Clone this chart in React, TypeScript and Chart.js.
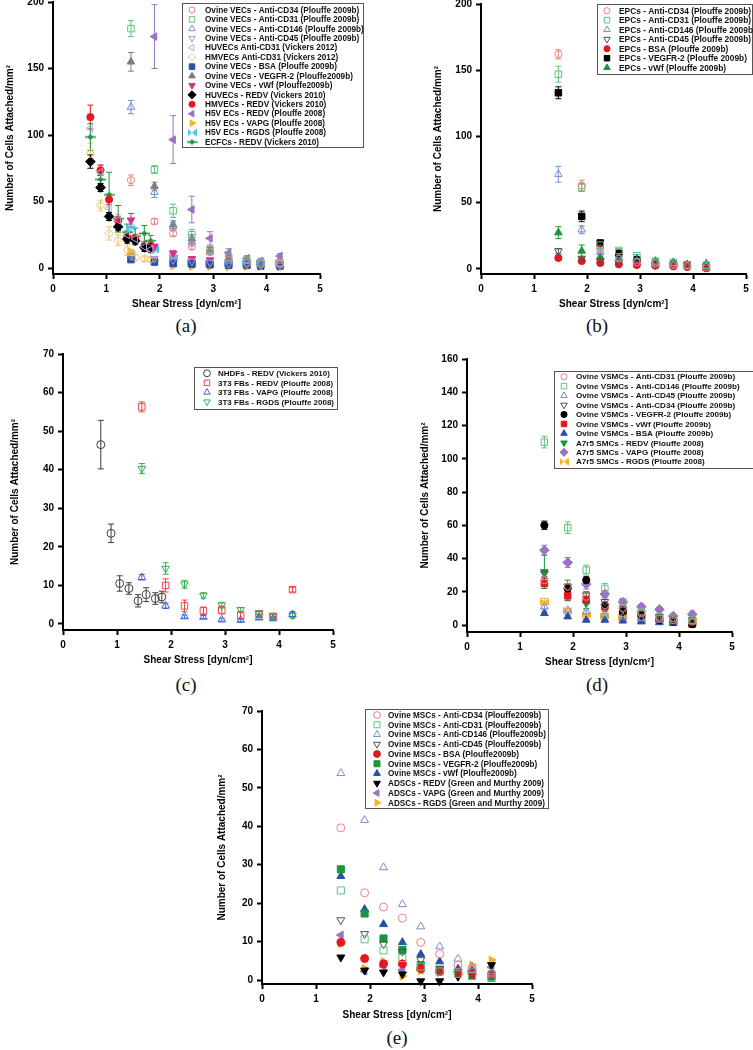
import React, { useEffect, useRef } from 'react';
import { Chart, registerables, PointElement } from 'chart.js';

Chart.register(...registerables);

const FONT = "'Liberation Sans', Arial, Helvetica, sans-serif";

// ---------- shared axes ----------
const SHEAR_PLOUFFE = [1.46, 1.9, 2.25, 2.6, 2.94, 3.29, 3.63, 3.89, 4.25];
const SHEAR_VICKERS = [0.7, 0.89, 1.05, 1.22, 1.39, 1.54, 1.71, 1.83];
const X_TICKS = [0, 1, 2, 3, 4, 5];
const Y_TICKS_AB = [0, 50, 100, 150, 200];
const Y_TICKS_C = [0, 10, 20, 30, 40, 50, 60, 70];
const Y_TICKS_D = [0, 20, 40, 60, 80, 100, 120, 140, 160];
const Y_TICKS_E = [0, 10, 20, 30, 40, 50, 60, 70];
const X_TITLE = 'Shear Stress [dyn/cm²]';
const Y_TITLE = 'Number of Cells Attached/mm²';

// ---------- panel (a) ----------
const A_CD34 = [66, 35, 26, 16, 12, 6, 4, 3, 3];
const A_CD34_E = [4, 2, 2, 2, 1.5, 1, 1, 1, 1];
const A_CD31 = [180, 74, 43, 25, 14, 8, 6, 4, 4];
const A_CD31_E = [6, 3, 5, 4, 2, 1.5, 1, 1, 1];
const A_CD146 = [121, 57, 31, 19.5, 12, 7, 5, 4, 3];
const A_CD146_E = [5, 4, 3, 3, 2, 1, 1, 1, 1];
const A_CD45 = [9, 7, 6, 5, 4, 3, 2.5, 2, 2];
const A_CD45_E = [1.5, 1, 1, 1, 1, 0.5, 0.5, 0.5, 0.5];
const A_HUV_CD31 = [105, 72, 45, 36, 25, 22, 16, 14];
const A_HUV_CD31_E = [6, 5, 4, 4, 3, 3, 3, 3];
const A_HMV_CD31 = [86, 47, 26, 21, 13.5, 8, 7, 6.5];
const A_HMV_CD31_E = [8, 4, 5, 4, 4, 2, 2, 2];
const A_BSA = [6.3, 4.5, 3.5, 3, 2.5, 2, 2, 1.5, 1.5];
const A_BSA_E = [1, 1, 1, 0.5, 0.5, 0.5, 0.5, 0.5, 0.5];
const A_VEGFR2 = [155, 61.5, 32.5, 22, 13.5, 7.5, 5, 4, 3.5];
const A_VEGFR2_E = [7, 3, 3, 3, 2, 1.5, 1, 1, 1];
const A_VWF = [36, 16, 11, 7, 6, 4, 3, 2, 1.5];
const A_VWF_E = [5, 2, 2, 1.5, 1, 1, 1, 1, 1];
const A_HUV_REDV = [80, 60.5, 38.7, 31, 21.7, 20.5, 15.5, 15];
const A_HUV_REDV_E = [5, 3, 3, 3, 3, 3, 3, 3];
const A_HMV_REDV = [113.5, 73.5, 51.5, 35.5, 23, 22, 16, 16.3];
const A_HMV_REDV_E = [9, 4, 4, 3, 3, 3, 2, 3];
const A_H5V_REDV = [null, 174, 96.5, 44, 22.3, 11.5, 7.3, 5.3, 9];
const A_H5V_REDV_E = [0, 24, 18, 10, 5, 3, 2, 2, 2];
const A_H5V_VAPG = [12.3, 6, 1.5, 1, 1, 1, 1, 1, 1];
const A_H5V_VAPG_E = [1.5, 1, 0.5, 0.5, 0.5, 0.5, 0.5, 0.5, 0.5];
const A_H5V_RGDS = [30, 14, 8, 4.5, 3.5, 3.5, 3.5, 3.5, 3.5];
const A_H5V_RGDS_E = [3, 2, 1.5, 1, 1, 1, 1, 1, 1];
const A_ECFC_REDV = [98.5, 66.5, 55, 37, 27, 24, 26, 20.5];
const A_ECFC_REDV_E = [10, 4, 17, 10, 6, 6, 6, 4];

// ---------- panel (b) ----------
const B_CD34 = [162, 63, 15, 8, 5, 4, 3, 2.5, 1.5];
const B_CD34_E = [3.5, 4, 2, 1, 1, 1, 1, 0.5, 0.5];
const B_CD31 = [147, 61.5, 18, 14, 10, 6, 5, 3, 3];
const B_CD31_E = [6, 3, 2, 1.5, 1, 1, 1, 0.5, 0.5];
const B_CD146 = [71.5, 29.6, 13, 8, 6, 4, 3, 2, 2];
const B_CD146_E = [6, 3, 2, 1, 1, 1, 0.5, 0.5, 0.5];
const B_CD45 = [13.5, 8, 6, 5, 4, 3, 3, 2, 2];
const B_CD45_E = [2, 1, 1, 1, 1, 0.5, 0.5, 0.5, 0.5];
const B_BSA = [8.3, 6, 4.5, 3.5, 3, 2.5, 2, 1.5, 0.5];
const B_BSA_E = [1, 1, 1, 1, 1, 0.5, 0.5, 0.5, 0.5];
const B_VEGFR2 = [133, 39.7, 19.6, 11.8, 7, 3.5, 3, 3, 1.5];
const B_VEGFR2_E = [4.5, 4, 2, 1.5, 1, 1, 1, 0.5, 0.5];
const B_VWF = [27.4, 13.6, 9, 7.5, 7.8, 6, 5, 3.5, 4];
const B_VWF_E = [4.5, 4.5, 2, 1, 1, 1, 1, 0.5, 0.5];

// ---------- panel (c) ----------
const C_NHDF = [46.5, 23.5, 10.5, 9.2, 6, 7.6, 6.6, 7];
const C_NHDF_E = [6.3, 2.4, 2, 1.5, 1.6, 1.8, 1.5, 1.5];
const C_REDV = [56.3, 10, 4.7, 3.4, 3.6, 2.2, 2.5, 2, 8.9];
const C_REDV_E = [1.3, 1.7, 1.5, 1, 1, 1, 0.7, 0.5, 0.6];
const C_VAPG = [12.1, 4.7, 1.9, 1.8, 1.1, 1, 1.6, 1.4, 2.5];
const C_VAPG_E = [0.7, 0.7, 0.4, 0.4, 0.4, 0.4, 0.4, 0.4, 0.7];
const C_RGDS = [40.3, 14.4, 10.3, 7.4, 4.9, 3.7, 2.9, 2, 2.2];
const C_RGDS_E = [1.3, 1.5, 1, 0.7, 0.7, 0.5, 0.5, 0.5, 0.7];

// ---------- panel (d) ----------
const D_CD31 = [27, 23, 17, 12, 10, 7, 4, 3, 2];
const D_CD31_E = [2, 2, 2, 1.5, 1, 1, 1, 0.5, 0.5];
const D_CD146 = [110, 58.5, 33, 22, 14, 8, 5, 4, 3];
const D_CD146_E = [3.5, 3.5, 3, 3, 2, 1, 1, 0.5, 0.5];
const D_CD45 = [11, 9, 8, 6, 5, 4, 3, 2, 2];
const D_CD45_E = [1.5, 1, 1, 1, 1, 0.5, 0.5, 0.5, 0.5];
const D_CD34 = [31, 23, 18, 14, 10, 7, 5, 4, 3];
const D_CD34_E = [2, 2, 2, 1.5, 1, 1, 1, 0.5, 0.5];
const D_VEGFR2 = [60, 22, 27, 12, 8, 6, 3, 2, 0.5];
const D_VEGFR2_E = [2.5, 2, 2, 1.5, 1, 1, 0.5, 0.5, 0.5];
const D_VWF = [25, 17.6, 15, 11, 8, 6, 4, 3, 0.5];
const D_VWF_E = [3, 3, 2, 2, 1.5, 1, 1, 0.5, 0.5];
const D_BSA = [7, 5, 3, 3, 2.5, 2, 1.5, 1, 0.5];
const D_BSA_E = [1, 1, 0.5, 0.5, 0.5, 0.5, 0.5, 0.5, 0.5];
const D_REDV = [32, 21, 13, 11, 9, 7, 5, 4, 3];
const D_REDV_E = [10, 6, 3, 3, 2, 1.5, 1, 1, 1];
const D_VAPG = [45, 37.6, 24.6, 18.6, 13.8, 11, 9.4, 5.4, 6.4];
const D_VAPG_E = [3, 3, 3, 2, 2, 1.5, 1, 1, 2];
const D_RGDS = [14, 8.6, 6, 5.4, 4.4, 3.4, 3, 2.5, 2];
const D_RGDS_E = [2, 1.5, 1, 1, 1, 0.5, 0.5, 0.5, 0.5];

// ---------- panel (e) ----------
const E_CD34 = [39.6, 22.7, 19, 16.1, 9.8, 6.8, 3.9, 3, 1.7];
const E_CD31 = [23.3, 10.6, 7.7, 5.7, 3.5, 2.2, 1.6, 1, 0.7];
const E_CD146 = [53.8, 41.6, 29.3, 19.7, 13.9, 8.7, 5.5, 3.5, 1.7];
const E_CD45 = [15.6, 12, 9.3, 7.4, 5.2, 3, 2.2, 1.7, 1.3];
const E_BSA = [9.8, 5.6, 4.2, 4.2, 3, 2.2, 1.9, 1.5, 1.5];
const E_VEGFR2 = [28.8, 17.3, 10.8, 7.8, 3.9, 2.6, 1.9, 1.1, 0.6];
const E_VWF = [27, 18.4, 14.5, 9.8, 6.7, 4.8, 2.9, 2.3, 1.3];
const E_REDV = [5.9, 2.5, 2, 1.5, -0.3, -0.3, 0.9, 1.9, 3.9];
const E_VAPG = [11.7, 2.3, 3.5, 2.6, 2.6, 2.2, 2.2, 2.2, 3.3];
const E_RGDS = [9.4, 3, 4.8, 1, 2.4, 1.9, 1.5, 3.9, 5.2];

// ---------- colours ----------
const PINK = 'rgb(240,128,128)';
const LGREEN = 'rgb(95,195,125)';
const LBLUE = 'rgb(120,140,210)';
const LAV = 'rgb(160,150,210)';
const LAV2 = 'rgb(185,170,220)';
const LORANGE = 'rgb(245,195,105)';
const BLUE = 'rgb(40,80,165)';
const GRAY = 'rgb(125,125,125)';
const MAGENTA = 'rgb(214,50,140)';
const RED = 'rgb(232,22,30)';
const PURPLE = 'rgb(155,115,195)';
const ORANGE = 'rgb(248,178,30)';
const CYAN = 'rgb(80,195,230)';
const GREEN = 'rgb(25,150,60)';
const DGRAY = 'rgb(80,80,80)';

type Spec = { label: string; xs: number[]; ys: (number | null)[]; es?: number[]; color: string; shape: string; filled: boolean; rot?: number; r?: number };

const SERIES_A: Spec[] = [
  { label: 'Ovine VECs - Anti-CD34 (Plouffe 2009b)', xs: SHEAR_PLOUFFE, ys: A_CD34, es: A_CD34_E, color: PINK, shape: 'circle', filled: false },
  { label: 'Ovine VECs - Anti-CD31 (Plouffe 2009b)', xs: SHEAR_PLOUFFE, ys: A_CD31, es: A_CD31_E, color: LGREEN, shape: 'rect', filled: false },
  { label: 'Ovine VECs - Anti-CD146 (Plouffe 2009b)', xs: SHEAR_PLOUFFE, ys: A_CD146, es: A_CD146_E, color: LBLUE, shape: 'triangle', filled: false },
  { label: 'Ovine VECs - Anti-CD45 (Plouffe 2009b)', xs: SHEAR_PLOUFFE, ys: A_CD45, es: A_CD45_E, color: LAV, shape: 'triangle', filled: false, rot: 180 },
  { label: 'HUVECs Anti-CD31 (Vickers 2012)', xs: SHEAR_VICKERS, ys: A_HUV_CD31, es: A_HUV_CD31_E, color: LAV2, shape: 'triangle', filled: false, rot: 270 },
  { label: 'HMVECs Anti-CD31 (Vickers 2012)', xs: SHEAR_VICKERS, ys: A_HMV_CD31, es: A_HMV_CD31_E, color: LORANGE, shape: 'rectRot', filled: false },
  { label: 'Ovine VECs - BSA (Plouffe 2009b)', xs: SHEAR_PLOUFFE, ys: A_BSA, es: A_BSA_E, color: BLUE, shape: 'rect', filled: true },
  { label: 'Ovine VECs - VEGFR-2 (Plouffe2009b)', xs: SHEAR_PLOUFFE, ys: A_VEGFR2, es: A_VEGFR2_E, color: GRAY, shape: 'triangle', filled: true },
  { label: 'Ovine VECs - vWf (Plouffe2009b)', xs: SHEAR_PLOUFFE, ys: A_VWF, es: A_VWF_E, color: MAGENTA, shape: 'triangle', filled: true, rot: 180 },
  { label: 'HUVECs - REDV (Vickers 2010)', xs: SHEAR_VICKERS, ys: A_HUV_REDV, es: A_HUV_REDV_E, color: '#000', shape: 'rectRot', filled: true, r: 4.8 },
  { label: 'HMVECs - REDV (Vickers 2010)', xs: SHEAR_VICKERS, ys: A_HMV_REDV, es: A_HMV_REDV_E, color: RED, shape: 'circle', filled: true },
  { label: 'H5V ECs - REDV (Plouffe 2008)', xs: SHEAR_PLOUFFE, ys: A_H5V_REDV, es: A_H5V_REDV_E, color: PURPLE, shape: 'triangle', filled: true, rot: 270 },
  { label: 'H5V ECs - VAPG (Plouffe 2008)', xs: SHEAR_PLOUFFE, ys: A_H5V_VAPG, es: A_H5V_VAPG_E, color: ORANGE, shape: 'triangle', filled: true, rot: 90 },
  { label: 'H5V ECs - RGDS (Plouffe 2008)', xs: SHEAR_PLOUFFE, ys: A_H5V_RGDS, es: A_H5V_RGDS_E, color: CYAN, shape: 'bowtie', filled: true },
  { label: 'ECFCs - REDV (Vickers 2010)', xs: SHEAR_VICKERS, ys: A_ECFC_REDV, es: A_ECFC_REDV_E, color: GREEN, shape: 'ecfc', filled: true },
];

const SERIES_B: Spec[] = [
  { label: 'EPCs - Anti-CD34 (Plouffe 2009b)', xs: SHEAR_PLOUFFE, ys: B_CD34, es: B_CD34_E, color: PINK, shape: 'circle', filled: false },
  { label: 'EPCs - Anti-CD31 (Plouffe 2009b)', xs: SHEAR_PLOUFFE, ys: B_CD31, es: B_CD31_E, color: LGREEN, shape: 'rect', filled: false },
  { label: 'EPCs - Anti-CD146 (Plouffe 2009b)', xs: SHEAR_PLOUFFE, ys: B_CD146, es: B_CD146_E, color: LBLUE, shape: 'triangle', filled: false },
  { label: 'EPCs - Anti-CD45 (Plouffe 2009b)', xs: SHEAR_PLOUFFE, ys: B_CD45, es: B_CD45_E, color: DGRAY, shape: 'triangle', filled: false, rot: 180 },
  { label: 'EPCs - BSA (Plouffe 2009b)', xs: SHEAR_PLOUFFE, ys: B_BSA, es: B_BSA_E, color: RED, shape: 'circle', filled: true },
  { label: 'EPCs - VEGFR-2 (Plouffe 2009b)', xs: SHEAR_PLOUFFE, ys: B_VEGFR2, es: B_VEGFR2_E, color: '#000', shape: 'rect', filled: true },
  { label: 'EPCs - vWf (Plouffe 2009b)', xs: SHEAR_PLOUFFE, ys: B_VWF, es: B_VWF_E, color: GREEN, shape: 'triangle', filled: true },
];

const SERIES_C: Spec[] = [
  { label: 'NHDFs - REDV (Vickers 2010)', xs: SHEAR_VICKERS, ys: C_NHDF, es: C_NHDF_E, color: 'rgb(60,60,60)', shape: 'circle', filled: false, r: 4 },
  { label: '3T3 FBs - REDV (Plouffe 2008)', xs: SHEAR_PLOUFFE, ys: C_REDV, es: C_REDV_E, color: 'rgb(240,70,70)', shape: 'rect', filled: false },
  { label: '3T3 FBs - VAPG (Plouffe 2008)', xs: SHEAR_PLOUFFE, ys: C_VAPG, es: C_VAPG_E, color: 'rgb(70,100,210)', shape: 'triangle', filled: false },
  { label: '3T3 FBs - RGDS (Plouffe 2008)', xs: SHEAR_PLOUFFE, ys: C_RGDS, es: C_RGDS_E, color: 'rgb(50,175,80)', shape: 'triangle', filled: false, rot: 180 },
];

const SERIES_D: Spec[] = [
  { label: 'Ovine VSMCs - Anti-CD31 (Plouffe 2009b)', xs: SHEAR_PLOUFFE, ys: D_CD31, es: D_CD31_E, color: PINK, shape: 'circle', filled: false },
  { label: 'Ovine VSMCs - Anti-CD146 (Plouffe 2009b)', xs: SHEAR_PLOUFFE, ys: D_CD146, es: D_CD146_E, color: LGREEN, shape: 'rect', filled: false },
  { label: 'Ovine VSMCs - Anti-CD45 (Plouffe 2009b)', xs: SHEAR_PLOUFFE, ys: D_CD45, es: D_CD45_E, color: LBLUE, shape: 'triangle', filled: false },
  { label: 'Ovine VSMCs - Anti-CD34 (Plouffe 2009b)', xs: SHEAR_PLOUFFE, ys: D_CD34, es: D_CD34_E, color: DGRAY, shape: 'triangle', filled: false, rot: 180 },
  { label: 'Ovine VSMCs - VEGFR-2 (Plouffe 2009b)', xs: SHEAR_PLOUFFE, ys: D_VEGFR2, es: D_VEGFR2_E, color: '#000', shape: 'circle', filled: true },
  { label: 'Ovine VSMCs - vWf (Plouffe 2009b)', xs: SHEAR_PLOUFFE, ys: D_VWF, es: D_VWF_E, color: RED, shape: 'rect', filled: true },
  { label: 'Ovine VSMCs - BSA (Plouffe 2009b)', xs: SHEAR_PLOUFFE, ys: D_BSA, es: D_BSA_E, color: BLUE, shape: 'triangle', filled: true },
  { label: 'A7r5 SMCs - REDV (Plouffe 2008)', xs: SHEAR_PLOUFFE, ys: D_REDV, es: D_REDV_E, color: GREEN, shape: 'triangle', filled: true, rot: 180 },
  { label: 'A7r5 SMCs - VAPG (Plouffe 2008)', xs: SHEAR_PLOUFFE, ys: D_VAPG, es: D_VAPG_E, color: PURPLE, shape: 'rectRot', filled: true, r: 4.8 },
  { label: 'A7r5 SMCs - RGDS (Plouffe 2008)', xs: SHEAR_PLOUFFE, ys: D_RGDS, es: D_RGDS_E, color: ORANGE, shape: 'bowtie', filled: true },
];

const SERIES_E: Spec[] = [
  { label: 'Ovine MSCs - Anti-CD34 (Plouffe2009b)', xs: SHEAR_PLOUFFE, ys: E_CD34, color: PINK, shape: 'circle', filled: false, r: 4 },
  { label: 'Ovine MSCs - Anti-CD31 (Plouffe2009b)', xs: SHEAR_PLOUFFE, ys: E_CD31, color: LGREEN, shape: 'rect', filled: false, r: 5 },
  { label: 'Ovine MSCs - Anti-CD146 (Plouffe2009b)', xs: SHEAR_PLOUFFE, ys: E_CD146, color: LBLUE, shape: 'triangle', filled: false, r: 4.6 },
  { label: 'Ovine MSCs - Anti-CD45 (Plouffe2009b)', xs: SHEAR_PLOUFFE, ys: E_CD45, color: DGRAY, shape: 'triangle', filled: false, rot: 180, r: 4.6 },
  { label: 'Ovine MSCs - BSA (Plouffe2009b)', xs: SHEAR_PLOUFFE, ys: E_BSA, color: RED, shape: 'circle', filled: true, r: 4 },
  { label: 'Ovine MSCs - VEGFR-2 (Plouffe2009b)', xs: SHEAR_PLOUFFE, ys: E_VEGFR2, color: GREEN, shape: 'rect', filled: true, r: 5 },
  { label: 'Ovine MSCs - vWf (Plouffe2009b)', xs: SHEAR_PLOUFFE, ys: E_VWF, color: BLUE, shape: 'triangle', filled: true, r: 4.6 },
  { label: 'ADSCs - REDV (Green and Murthy 2009)', xs: SHEAR_PLOUFFE, ys: E_REDV, color: '#000', shape: 'triangle', filled: true, rot: 180, r: 4.6 },
  { label: 'ADSCs - VAPG (Green and Murthy 2009)', xs: SHEAR_PLOUFFE, ys: E_VAPG, color: PURPLE, shape: 'triangle', filled: true, rot: 270, r: 4.6 },
  { label: 'ADSCs - RGDS (Green and Murthy 2009)', xs: SHEAR_PLOUFFE, ys: E_RGDS, color: ORANGE, shape: 'triangle', filled: true, rot: 90, r: 4.6 },
];

type PanelCfg = {
  left: number; top: number; width: number; height: number;
  plotL: number; plotR: number; plotT: number; plotB: number;
  yMin: number; yMax: number; yTicks: number[]; yTitleX: number;
  series: Spec[];
  legend: { box: number[]; y0: number; dy: number; mx: number; tx: number; fs: number };
};

const PANELS: PanelCfg[] = [
  { left: 0, top: -10, width: 370, height: 320, plotL: 53, plotR: 320, plotT: 2, plotB: 274, yMin: -4.5, yMax: 200, yTicks: Y_TICKS_AB, yTitleX: 10, series: SERIES_A,
    legend: { box: [182, 3, 363, 147], y0: 10, dy: 9.43, mx: 192, tx: 205, fs: 8.2 } },
  { left: 430, top: -10, width: 323, height: 320, plotL: 481, plotR: 746, plotT: 4, plotB: 274, yMin: -3.8, yMax: 200, yTicks: Y_TICKS_AB, yTitleX: 438, series: SERIES_B,
    legend: { box: [597, 4, 752, 74], y0: 10.7, dy: 9.5, mx: 607, tx: 619, fs: 8.4 } },
  { left: 0, top: 340, width: 345, height: 326, plotL: 63, plotR: 333, plotT: 354, plotB: 630, yMin: -1.56, yMax: 70, yTicks: Y_TICKS_C, yTitleX: 15, series: SERIES_C,
    legend: { box: [194, 367, 337, 409], y0: 373.3, dy: 9.5, mx: 207, tx: 218, fs: 8 } },
  { left: 415, top: 345, width: 338, height: 323, plotL: 467, plotR: 732, plotT: 359, plotB: 632, yMin: -4.2, yMax: 160, yTicks: Y_TICKS_D, yTitleX: 425, series: SERIES_D,
    legend: { box: [554, 371, 760, 468], y0: 376.7, dy: 9.45, mx: 564, tx: 576, fs: 8.1 } },
  { left: 210, top: 697, width: 350, height: 324, plotL: 262, plotR: 532, plotT: 711, plotB: 984, yMin: -1.04, yMax: 70, yTicks: Y_TICKS_E, yTitleX: 222, series: SERIES_E,
    legend: { box: [365, 709, 548, 808], y0: 715, dy: 9.75, mx: 377, tx: 388, fs: 8.2 } },
];

const CAPTIONS = [
  { text: '(a)', x: 186, y: 326 },
  { text: '(b)', x: 597, y: 326 },
  { text: '(c)', x: 186, y: 685 },
  { text: '(d)', x: 597, y: 685 },
  { text: '(e)', x: 397, y: 1038 },
];

const RADIUS: Record<string, number> = { circle: 3.6, rect: 4.6, triangle: 4.4, rectRot: 4.3, bowtie: 4, ecfc: 4 };

function bowtie(color: string) {
  const c = document.createElement('canvas');
  c.width = 9; c.height = 9;
  const g = c.getContext('2d')!;
  g.fillStyle = color;
  g.beginPath(); g.moveTo(0, 0.5); g.lineTo(4.5, 4.5); g.lineTo(0, 8.5); g.closePath(); g.fill();
  g.beginPath(); g.moveTo(9, 0.5); g.lineTo(4.5, 4.5); g.lineTo(9, 8.5); g.closePath(); g.fill();
  return c;
}

function dashDiamond(color: string) {
  const c = document.createElement('canvas');
  c.width = 11; c.height = 7;
  const g = c.getContext('2d')!;
  g.strokeStyle = color; g.fillStyle = color; g.lineWidth = 1.5;
  g.beginPath(); g.moveTo(0, 3.5); g.lineTo(11, 3.5); g.stroke();
  g.beginPath(); g.moveTo(5.5, 0.5); g.lineTo(8.5, 3.5); g.lineTo(5.5, 6.5); g.lineTo(2.5, 3.5); g.closePath(); g.fill();
  return c;
}

function buildDataset(s: Spec) {
  const pts: any[] = [];
  s.xs.forEach((x, i) => {
    const y = s.ys[i];
    if (y === null || y === undefined) return;
    pts.push({ x, y, e: s.es ? s.es[i] : 0 });
  });
  let ps: any = s.shape;
  if (s.shape === 'bowtie') ps = bowtie(s.color);
  if (s.shape === 'ecfc') ps = dashDiamond(s.color);
  const bg = s.filled ? s.color : 'rgba(0,0,0,0)';
  return {
    label: s.label,
    data: pts,
    pointStyle: ps,
    pointRotation: s.rot || 0,
    pointRadius: s.r ?? RADIUS[s.shape],
    pointHoverRadius: s.r ?? RADIUS[s.shape],
    pointBorderWidth: 1,
    pointBackgroundColor: bg,
    pointBorderColor: s.color,
    borderColor: s.color,
    backgroundColor: bg,
    showLine: false,
    clip: false,
  };
}

const errorBarPlugin = {
  id: 'errorBars',
  beforeDatasetsDraw(chart: any) {
    const ctx = chart.ctx;
    const xs = chart.scales.x;
    const ys = chart.scales.y;
    ctx.save();
    chart.data.datasets.forEach((ds: any) => {
      ctx.strokeStyle = ds.borderColor;
      ctx.lineWidth = 1;
      ds.data.forEach((p: any) => {
        if (!p.e) return;
        const px = xs.getPixelForValue(p.x);
        const yt = ys.getPixelForValue(p.y + p.e);
        const yb = ys.getPixelForValue(p.y - p.e);
        ctx.beginPath();
        ctx.moveTo(px, yt); ctx.lineTo(px, yb);
        ctx.moveTo(px - 3, yt); ctx.lineTo(px + 3, yt);
        ctx.moveTo(px - 3, yb); ctx.lineTo(px + 3, yb);
        ctx.stroke();
      });
    });
    ctx.restore();
  },
};

function makeLegendPlugin(cfg: PanelCfg) {
  return {
    id: 'boxLegend',
    afterDraw(chart: any) {
      const ctx = chart.ctx;
      const L = cfg.legend;
      const ox = cfg.left, oy = cfg.top;
      ctx.save();
      ctx.fillStyle = '#fff';
      ctx.fillRect(L.box[0] - ox, L.box[1] - oy, L.box[2] - L.box[0], L.box[3] - L.box[1]);
      ctx.strokeStyle = '#555';
      ctx.lineWidth = 1;
      ctx.strokeRect(L.box[0] - ox + 0.5, L.box[1] - oy + 0.5, L.box[2] - L.box[0], L.box[3] - L.box[1]);
      chart.data.datasets.forEach((ds: any, i: number) => {
        const y = L.y0 + i * L.dy - oy;
        const pe: any = new (PointElement as any)({
          x: L.mx - ox,
          y,
          options: {
            pointStyle: ds.pointStyle,
            rotation: ds.pointRotation,
            radius: ds.pointRadius * 0.85,
            borderWidth: 1,
            backgroundColor: ds.pointBackgroundColor,
            borderColor: ds.pointBorderColor,
          },
        });
        pe.draw(ctx, { left: -1e5, right: 1e5, top: -1e5, bottom: 1e5 });
        ctx.fillStyle = '#111';
        ctx.font = `bold ${L.fs}px ${FONT}`;
        ctx.textBaseline = 'middle';
        ctx.textAlign = 'left';
        ctx.fillText(ds.label, L.tx - ox, y + 0.5);
      });
      ctx.restore();
    },
  };
}

function Panel({ cfg }: { cfg: PanelCfg }) {
  const ref = useRef<HTMLCanvasElement>(null);
  useEffect(() => {
    const canvas = ref.current!;
    const datasets = cfg.series.map(buildDataset);
    const tickFont = { family: FONT, size: 10, weight: 'bold' as const };
    const chart = new Chart(canvas, {
      type: 'scatter',
      data: { datasets } as any,
      options: {
        responsive: false,
        animation: false,
        events: [],
        layout: { padding: { left: 0, top: cfg.plotT - cfg.top, right: cfg.left + cfg.width - cfg.plotR, bottom: 0 } },
        plugins: { legend: { display: false }, tooltip: { enabled: false } },
        scales: {
          x: {
            type: 'linear',
            min: 0,
            max: 5,
            afterBuildTicks: (ax: any) => { ax.ticks = X_TICKS.map((v) => ({ value: v })); },
            afterFit: (ax: any) => { ax.height = cfg.top + cfg.height - cfg.plotB; },
            grid: { display: true, drawOnChartArea: false, drawTicks: true, tickLength: 5, tickWidth: 2, tickColor: '#000' },
            border: { display: true, color: '#000', width: 2 },
            ticks: { color: '#000', font: tickFont, padding: 4, maxRotation: 0, autoSkip: false },
            title: { display: true, text: X_TITLE, color: '#000', font: tickFont, padding: 0 },
          },
          y: {
            type: 'linear',
            min: cfg.yMin,
            max: cfg.yMax,
            afterBuildTicks: (ax: any) => { ax.ticks = cfg.yTicks.map((v) => ({ value: v })); },
            afterFit: (ax: any) => { ax.width = cfg.plotL - cfg.left; },
            grid: { display: true, drawOnChartArea: false, drawTicks: true, tickLength: 5, tickWidth: 2, tickColor: '#000' },
            border: { display: true, color: '#000', width: 2 },
            ticks: { color: '#000', font: tickFont, padding: 4, autoSkip: false },
            title: { display: true, text: Y_TITLE, color: '#000', font: tickFont, padding: { top: cfg.yTitleX - cfg.left - 6, bottom: 0 } },
          },
        },
      } as any,
      plugins: [errorBarPlugin, makeLegendPlugin(cfg)] as any,
    });
    return () => chart.destroy();
  }, [cfg]);
  return (
    <canvas
      ref={ref}
      width={cfg.width}
      height={cfg.height}
      style={{ position: 'absolute', left: cfg.left, top: cfg.top, width: cfg.width, height: cfg.height }}
    />
  );
}

export default function App() {
  return (
    <div style={{ position: 'absolute', left: 0, top: 0, width: 753, height: 1050, overflow: 'hidden', background: '#fff' }}>
      {PANELS.map((p, i) => <Panel key={i} cfg={p} />)}
      {CAPTIONS.map((c) => (
        <div
          key={c.text}
          style={{ position: 'absolute', left: c.x - 30, top: c.y - 12, width: 60, height: 24, lineHeight: '24px', textAlign: 'center', fontFamily: "'Liberation Serif', 'DejaVu Serif', serif", fontSize: 19, color: '#111' }}
        >
          {c.text}
        </div>
      ))}
    </div>
  );
}
